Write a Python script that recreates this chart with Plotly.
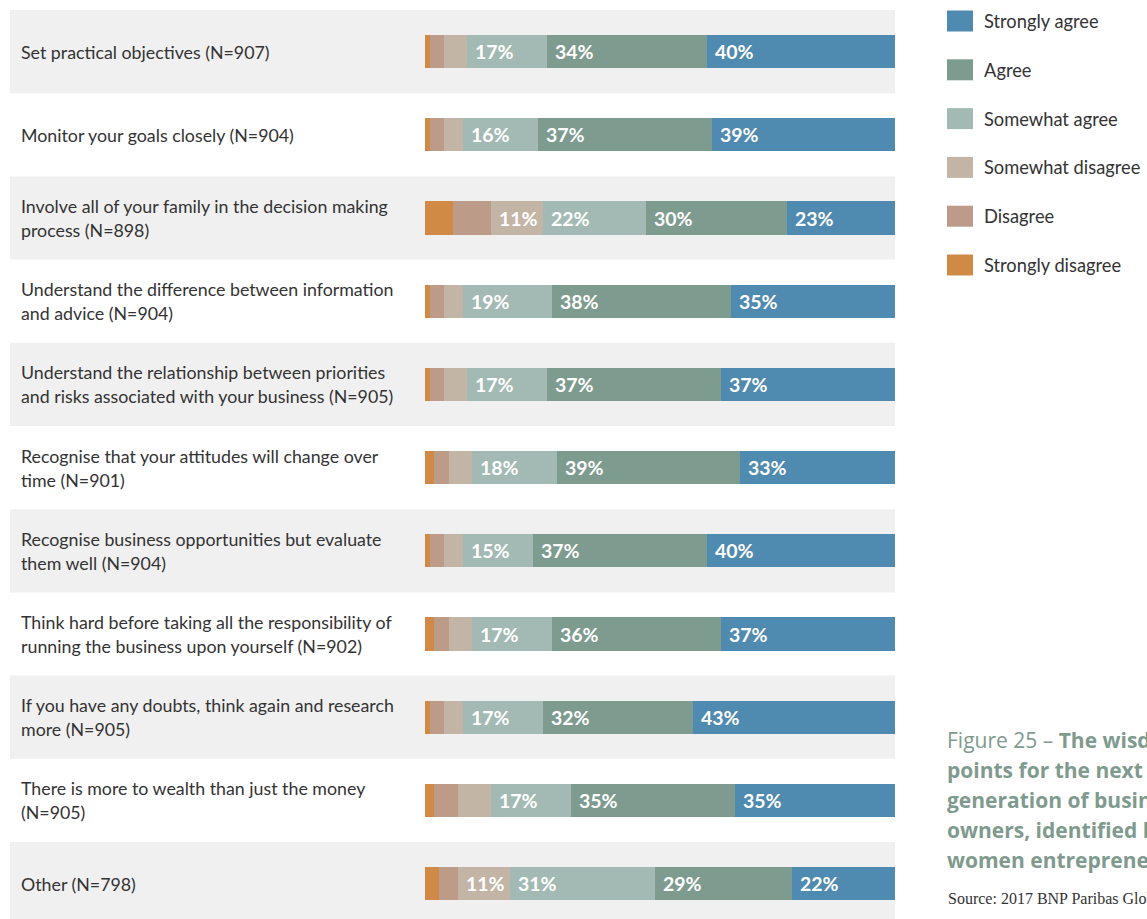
import plotly.graph_objects as go

categories = [
    "Set practical objectives (N=907)",
    "Monitor your goals closely (N=904)",
    "Involve all of your family in the decision making<br>process (N=898)",
    "Understand the difference between information<br>and advice (N=904)",
    "Understand the relationship between priorities<br>and risks associated with your business (N=905)",
    "Recognise that your attitudes will change over<br>time (N=901)",
    "Recognise business opportunities but evaluate<br>them well (N=904)",
    "Think hard before taking all the responsibility of<br>running the business upon yourself (N=902)",
    "If you have any doubts, think again and research<br>more (N=905)",
    "There is more to wealth than just the money<br>(N=905)",
    "Other (N=798)",
]

strongly_disagree = [1, 1, 6, 1, 1, 2, 1, 2, 1, 2, 3]
disagree = [3, 3, 8, 3, 3, 3, 3, 3, 3, 5, 4]
somewhat_disagree = [5, 4, 11, 4, 5, 5, 4, 5, 4, 7, 11]
somewhat_agree = [17, 16, 22, 19, 17, 18, 15, 17, 17, 17, 31]
agree = [34, 37, 30, 38, 37, 39, 37, 36, 32, 35, 29]
strongly_agree = [40, 39, 23, 35, 37, 33, 40, 37, 43, 35, 22]

series_names = ["Strongly disagree", "Disagree", "Somewhat disagree",
                "Somewhat agree", "Agree", "Strongly agree"]
series_values = [strongly_disagree, disagree, somewhat_disagree,
                 somewhat_agree, agree, strongly_agree]
series_colors = ["#d08a45", "#bc9b89", "#c2b5a5", "#a2bab3", "#7d9b8e", "#4f8ab0"]

caption_lines = [
    "Figure 25 – <b>The wisdom</b>",
    "<b>points for the next</b>",
    "<b>generation of business</b>",
    "<b>owners, identified by</b>",
    "<b>women entrepreneurs</b>",
]
source_text = "Source: 2017 BNP Paribas Global Entrepreneur Report"

W, H = 1147, 919
ML, MR, MT, MB = 10, 252, 10, 0
PW = W - ML - MR
PH = H - MT - MB
PX_PER_UNIT = 4.7
XMIN = 100 - PW / PX_PER_UNIT
ROW_PX = 83.2
YMAX = -0.5 + PH / ROW_PX

def px_to_paper_x(px):
    return (px - ML) / PW

def px_to_paper_y(py):
    return (H - MB - py) / PH

fig = go.Figure()
for name, vals, col in zip(series_names, series_values, series_colors):
    fig.add_trace(go.Bar(
        y=categories, x=vals, name=name, orientation="h",
        marker=dict(color=col, line=dict(width=0)),
        width=0.4, showlegend=False, hoverinfo="x+name",
    ))

shapes = []
annotations = []

# alternating row bands
for i, cat in enumerate(categories):
    if i % 2 == 0:
        shapes.append(dict(type="rect", xref="x", yref="y", x0=XMIN, x1=100,
                           y0=i - 0.5, y1=i + 0.5, fillcolor="#f0f0f0",
                           line=dict(width=0), layer="below"))
    lines = cat.split("<br>")
    n = len(lines)
    for j, ln in enumerate(lines):
        annotations.append(dict(
            xref="paper", yref="y", x=px_to_paper_x(19), y=i, text=ln,
            xanchor="left", yanchor="middle", showarrow=False,
            yshift=(n - 1) * 12 - j * 24,
            font=dict(family="Lato", size=17.8, color="#333333"),
        ))

# percentage labels
for i, cat in enumerate(categories):
    base = 0
    for vals in series_values:
        v = vals[i]
        if v >= 10:
            annotations.append(dict(
                xref="x", yref="y", x=base, y=i, text=f"{v}%",
                xanchor="left", yanchor="middle", showarrow=False, xshift=6,
                font=dict(family="Lato", size=19.5, color="white", weight=700),
            ))
        base += v

# legend (top = Strongly agree)
leg_order = list(zip(series_names, series_colors))[::-1]
for k, (name, col) in enumerate(leg_order):
    cy = 21 + k * 48.8
    shapes.append(dict(type="rect", xref="paper", yref="paper",
                       x0=px_to_paper_x(947), x1=px_to_paper_x(973),
                       y0=px_to_paper_y(cy + 10.5), y1=px_to_paper_y(cy - 10.5),
                       fillcolor=col, line=dict(width=0)))
    annotations.append(dict(
        xref="paper", yref="paper", x=px_to_paper_x(982), y=px_to_paper_y(cy),
        text=name, xanchor="left", yanchor="middle", showarrow=False,
        font=dict(family="Lato", size=18.3, color="#333333"),
    ))

# caption (clipped at the page edge, as in the original)
for k, ln in enumerate(caption_lines):
    annotations.append(dict(
        xref="paper", yref="paper", x=px_to_paper_x(945), y=px_to_paper_y(740 + k * 30),
        text=ln, xanchor="left", yanchor="middle", showarrow=False,
        font=dict(family="Open Sans", size=21, color="#7e9b8e"),
    ))
annotations.append(dict(
    xref="paper", yref="paper", x=px_to_paper_x(946), y=px_to_paper_y(899),
    text=source_text, xanchor="left", yanchor="middle", showarrow=False,
    font=dict(family="Liberation Serif", size=16, color="#333333"),
))

fig.update_layout(
    width=W, height=H,
    margin=dict(l=ML, r=MR, t=MT, b=MB, pad=0),
    barmode="stack",
    plot_bgcolor="white", paper_bgcolor="white",
    xaxis=dict(range=[XMIN, 100], visible=False, fixedrange=True),
    yaxis=dict(type="category", range=[YMAX, -0.5], visible=False, fixedrange=True),
    shapes=shapes, annotations=annotations,
    showlegend=False,
)

fig.write_html("out.html", config={"displayModeBar": False})
